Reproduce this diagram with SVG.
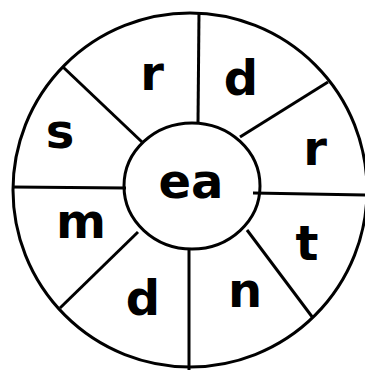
<svg xmlns="http://www.w3.org/2000/svg" width="365" height="370" viewBox="0 0 365 370">
<style>
.ln{stroke:#000;stroke-width:3;fill:none;stroke-linecap:butt}
.t{font-family:"DejaVu Sans","Liberation Sans",sans-serif;font-weight:bold;font-size:48px;fill:#000;text-anchor:middle}
</style>
<rect width="365" height="370" fill="#fff"/>
<g id="wheel">
<circle class="ln" cx="190" cy="190" r="177"/>
</g>
<g id="connectors">
<line class="ln" x1="199" y1="12" x2="198" y2="123"/>
<line class="ln" x1="63" y1="67" x2="142" y2="142"/>
<line class="ln" x1="328" y1="82" x2="240" y2="137"/>
<line class="ln" x1="253" y1="193" x2="366" y2="195"/>
<line class="ln" x1="247" y1="230" x2="313" y2="318"/>
<line class="ln" x1="189" y1="248" x2="189" y2="370"/>
<line class="ln" x1="138" y1="232" x2="60" y2="308"/>
<line class="ln" x1="12" y1="187" x2="126" y2="188"/>
</g>
<g id="center">
<ellipse class="ln" cx="192" cy="186" rx="68" ry="63" fill="#fff"/>
<text class="t" x="191" y="198">ea</text>
</g>
<g id="seg-r-top"><text class="t" x="152" y="90">r</text></g>
<g id="seg-d-top"><text class="t" x="241" y="95">d</text></g>
<g id="seg-r-right"><text class="t" x="315" y="165">r</text></g>
<g id="seg-t"><text class="t" x="307" y="260">t</text></g>
<g id="seg-n"><text class="t" x="245" y="307">n</text></g>
<g id="seg-d-bottom"><text class="t" x="143" y="315">d</text></g>
<g id="seg-m"><text class="t" x="81" y="238">m</text></g>
<g id="seg-s"><text class="t" x="60" y="148">s</text></g>
</svg>
